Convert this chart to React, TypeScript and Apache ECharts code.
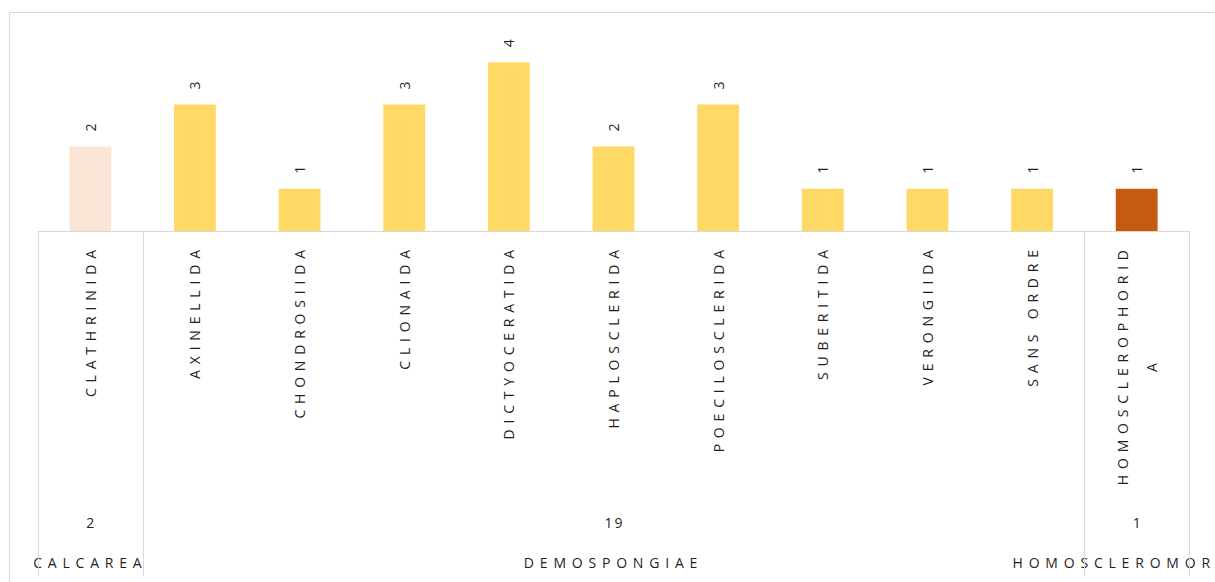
import React, { useEffect, useRef } from "react";
import * as echarts from "echarts";

// Orders (level 1 of the category axis) and their counts
const orders = [
  "CLATHRINIDA",
  "AXINELLIDA",
  "CHONDROSIIDA",
  "CLIONAIDA",
  "DICTYOCERATIDA",
  "HAPLOSCLERIDA",
  "POECILOSCLERIDA",
  "SUBERITIDA",
  "VERONGIIDA",
  "SANS ORDRE",
  "HOMOSCLEROPHORIDA",
];
const orderCounts = [2, 3, 1, 3, 4, 2, 3, 1, 1, 1, 1];

// Classes (level 3), how many orders each spans, and their totals (level 2)
const classNames = ["CALCAREA", "DEMOSPONGIAE", "HOMOSCLEROMORPHA"];
const classSizes = [1, 9, 1];
const classTotals = [2, 19, 1];
const classColors = ["#FBE5D6", "#FFD966", "#C55A11"];

const FONT = "'Open Sans'";
const FS = 14;
const LS = 5.8;
const TEXT = "#1f1f1f";
const LINE = "#D9D9D9";

export default function App() {
  const ref = useRef<HTMLDivElement>(null);

  useEffect(() => {
    const el = ref.current!;
    const chart = echarts.init(el, null, { renderer: "svg" });
    const W = el.clientWidth;

    const classOf: number[] = [];
    classSizes.forEach((n, ci) => {
      for (let k = 0; k < n; k++) classOf.push(ci);
    });

    chart.setOption({
      animation: false,
      grid: { left: 38, right: 26, top: 20, bottom: 351 },
      xAxis: {
        type: "category",
        data: orders,
        axisLine: { lineStyle: { color: LINE, width: 1 } },
        axisTick: { show: false },
        axisLabel: { show: false },
        splitLine: { show: false },
      },
      yAxis: { type: "value", min: 0, max: 5, show: false },
      series: [
        {
          type: "bar",
          barWidth: "40%",
          data: orderCounts.map((v, i) => ({
            value: v,
            itemStyle: { color: classColors[classOf[i]] },
          })),
          label: {
            show: true,
            position: "top",
            rotate: 90,
            align: "left",
            verticalAlign: "middle",
            distance: 15,
            color: TEXT,
            fontSize: FS,
            fontFamily: FONT,
          },
        },
      ],
    });

    const ctx = document.createElement("canvas").getContext("2d")!;
    ctx.font = `${FS}px ${FONT}`;
    const tw = (s: string) => ctx.measureText(s).width + s.length * LS;

    const px = (i: number) => chart.convertToPixel({ xAxisIndex: 0 }, i) as number;
    const y0 = chart.convertToPixel({ yAxisIndex: 0 }, 0) as number;
    const step = px(1) - px(0);
    const edge = (i: number) => px(0) + (i - 0.5) * step;

    const font = `${FS}px ${FONT}`;
    const graphics: any[] = [];

    // outer chart border
    graphics.push({
      type: "rect",
      silent: true,
      shape: { x: 9.5, y: 12.5, width: W + 200, height: 800 },
      style: { fill: "none", stroke: LINE, lineWidth: 1.2 },
    });

    // level-1 labels (rotated, wrapped when too long)
    const topY = y0 + 19;
    const avail = 250;
    orders.forEach((name, i) => {
      const lines: string[] = [];
      let rest = name;
      while (tw(rest) > avail) {
        let k = rest.length - 1;
        while (k > 1 && tw(rest.slice(0, k)) > avail) k--;
        lines.push(rest.slice(0, k));
        rest = rest.slice(k);
      }
      lines.push(rest);
      const w1 = tw(lines[0]);
      graphics.push({
        type: "text",
        silent: true,
        x: px(i),
        y: topY - LS + w1 / 2,
        rotation: Math.PI / 2,
        style: {
          text: lines.join("\n"),
          font,
          fill: TEXT,
          align: "center",
          verticalAlign: "middle",
          lineHeight: 29,
        },
      });
    });

    // class separators, totals and names
    let start = 0;
    const bounds: number[] = [0];
    classSizes.forEach((n, ci) => {
      const left = edge(start);
      const right = edge(start + n);
      const gc = (left + right) / 2;
      graphics.push({
        type: "text",
        silent: true,
        x: gc + 1,
        y: y0 + 291,
        style: { text: String(classTotals[ci]), font, fill: TEXT, align: "center", verticalAlign: "middle" },
      });
      const full = classNames[ci];
      const fw = tw(full);
      const sx = gc - fw / 2;
      if (sx + fw - LS > W) {
        let k = full.length;
        while (k > 1 && sx + tw(full.slice(0, k)) - LS > W) k--;
        graphics.push({
          type: "text",
          silent: true,
          x: sx,
          y: y0 + 331,
          style: { text: full.slice(0, k), font, fill: TEXT, align: "left", verticalAlign: "middle" },
        });
      } else {
        graphics.push({
          type: "text",
          silent: true,
          x: gc,
          y: y0 + 331,
          style: { text: full, font, fill: TEXT, align: "center", verticalAlign: "middle" },
        });
      }
      start += n;
      bounds.push(start);
    });

    bounds.forEach((b) => {
      const x = Math.round(edge(b)) + 0.5;
      graphics.push({
        type: "line",
        silent: true,
        shape: { x1: x, y1: y0, x2: x, y2: y0 + 345 },
        style: { stroke: LINE, lineWidth: 1 },
      });
    });

    const applyLS = () => {
      el.querySelectorAll("text").forEach((t) => {
        const s = t.textContent || "";
        (t as SVGTextElement).style.letterSpacing = (/^\d+$/.test(s) ? 2 : LS) + "px";
      });
    };
    chart.on("finished", applyLS);
    chart.setOption({ graphic: graphics });
    applyLS();

    return () => {
      chart.dispose();
    };
  }, []);

  return (
    <div
      ref={ref}
      style={{ position: "absolute", left: 0, top: 0, width: 1215, height: 582, background: "#fff" }}
    />
  );
}
